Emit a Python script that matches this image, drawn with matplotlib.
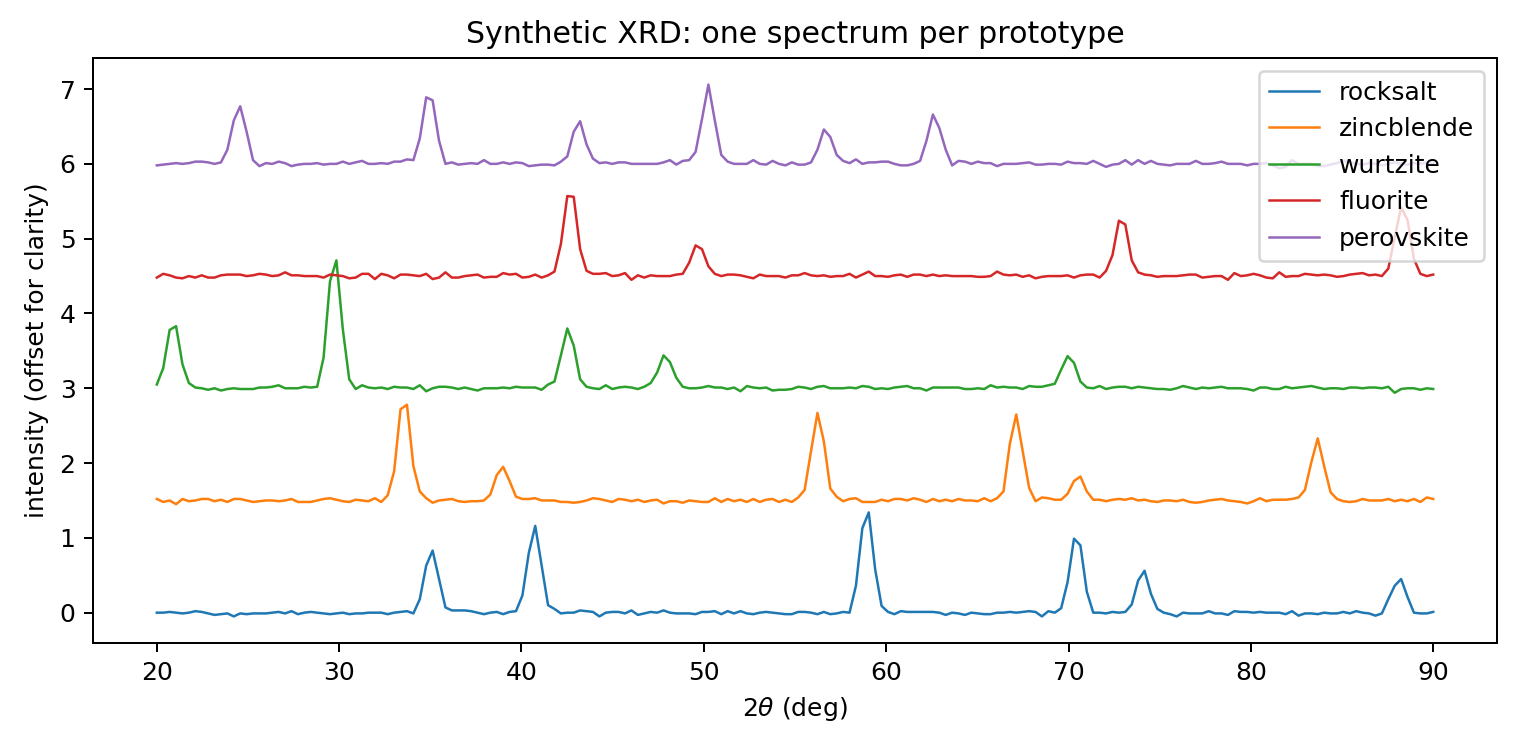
import numpy as np
import matplotlib
matplotlib.use("Agg")
import matplotlib.pyplot as plt

two_theta = np.linspace(20, 90, 200)

labels = ["rocksalt", "zincblende", "wurtzite", "fluorite", "perovskite"]

rocksalt = [
    0.00, 0.00, 0.01, 0.00, -0.01, 0.00, 0.02, 0.01, -0.01, -0.03,
    -0.02, -0.01, -0.05, -0.01, -0.02, -0.01, -0.01, -0.01, 0.00, 0.01,
    -0.01, 0.02, -0.02, 0.00, 0.01, 0.00, -0.01, -0.02, -0.01, 0.00,
    -0.02, -0.01, -0.01, 0.00, 0.00, 0.00, -0.02, 0.00, 0.01, 0.02,
    -0.01, 0.18, 0.63, 0.83, 0.45, 0.07, 0.03, 0.03, 0.03, 0.02,
    0.00, -0.02, 0.00, 0.01, -0.02, 0.01, 0.02, 0.23, 0.80, 1.16,
    0.63, 0.10, 0.05, -0.01, 0.00, 0.00, 0.03, 0.02, 0.01, -0.05,
    0.00, 0.01, 0.01, -0.01, 0.03, -0.03, -0.01, 0.01, 0.00, 0.03,
    0.00, -0.01, -0.01, -0.01, -0.02, 0.01, 0.01, 0.02, -0.02, 0.02,
    -0.01, 0.02, -0.01, -0.02, 0.00, 0.01, 0.00, -0.01, -0.02, -0.02,
    0.01, 0.01, 0.00, -0.02, 0.01, -0.02, -0.01, 0.01, 0.00, 0.36,
    1.13, 1.34, 0.58, 0.09, 0.01, -0.02, 0.02, 0.01, 0.01, 0.01,
    0.01, 0.01, 0.00, -0.03, 0.00, -0.01, -0.03, 0.00, -0.01, -0.02,
    -0.02, 0.00, 0.00, 0.01, 0.00, 0.01, 0.02, 0.01, -0.05, 0.02,
    0.00, 0.06, 0.41, 0.99, 0.90, 0.28, 0.00, 0.00, -0.01, 0.01,
    0.00, 0.01, 0.11, 0.43, 0.56, 0.25, 0.05, 0.00, -0.02, -0.05,
    0.00, -0.01, -0.01, -0.01, 0.02, -0.01, -0.01, -0.03, 0.02, 0.01,
    0.01, 0.00, 0.01, 0.00, 0.00, 0.00, -0.02, 0.02, -0.04, -0.01,
    -0.01, -0.02, 0.00, -0.01, -0.01, 0.01, -0.01, 0.02, 0.00, -0.01,
    -0.04, -0.01, 0.18, 0.36, 0.45, 0.21, 0.00, -0.01, -0.01, 0.01,
]

zincblende = [
    1.52, 1.48, 1.50, 1.45, 1.52, 1.49, 1.50, 1.52, 1.52, 1.49,
    1.51, 1.48, 1.52, 1.52, 1.50, 1.48, 1.49, 1.50, 1.50, 1.49,
    1.50, 1.52, 1.48, 1.48, 1.48, 1.50, 1.52, 1.53, 1.51, 1.49,
    1.48, 1.51, 1.50, 1.49, 1.53, 1.48, 1.57, 1.89, 2.72, 2.78,
    1.96, 1.62, 1.53, 1.47, 1.50, 1.51, 1.52, 1.49, 1.48, 1.49,
    1.49, 1.50, 1.58, 1.84, 1.95, 1.76, 1.55, 1.52, 1.52, 1.53,
    1.50, 1.50, 1.50, 1.48, 1.48, 1.47, 1.48, 1.50, 1.53, 1.52,
    1.50, 1.48, 1.52, 1.51, 1.49, 1.51, 1.48, 1.50, 1.51, 1.46,
    1.49, 1.49, 1.47, 1.50, 1.49, 1.48, 1.48, 1.53, 1.48, 1.52,
    1.49, 1.51, 1.48, 1.52, 1.48, 1.51, 1.52, 1.48, 1.51, 1.48,
    1.54, 1.64, 2.16, 2.67, 2.29, 1.66, 1.55, 1.49, 1.52, 1.53,
    1.48, 1.48, 1.48, 1.51, 1.49, 1.52, 1.52, 1.50, 1.53, 1.51,
    1.48, 1.52, 1.49, 1.51, 1.49, 1.52, 1.50, 1.50, 1.49, 1.53,
    1.49, 1.53, 1.62, 2.26, 2.65, 2.16, 1.67, 1.49, 1.54, 1.53,
    1.51, 1.51, 1.59, 1.76, 1.82, 1.62, 1.51, 1.51, 1.49, 1.51,
    1.52, 1.51, 1.53, 1.50, 1.51, 1.49, 1.48, 1.50, 1.50, 1.49,
    1.51, 1.48, 1.47, 1.48, 1.50, 1.51, 1.52, 1.50, 1.49, 1.48,
    1.46, 1.49, 1.53, 1.49, 1.51, 1.51, 1.51, 1.52, 1.54, 1.64,
    2.01, 2.33, 1.96, 1.61, 1.52, 1.49, 1.48, 1.49, 1.52, 1.50,
    1.50, 1.50, 1.52, 1.49, 1.51, 1.49, 1.52, 1.48, 1.54, 1.52,
]

wurtzite = [
    3.05, 3.27, 3.78, 3.83, 3.32, 3.07, 3.01, 3.00, 2.98, 3.00,
    2.97, 2.99, 3.00, 2.99, 2.99, 2.99, 3.01, 3.01, 3.02, 3.04,
    3.00, 3.00, 3.00, 3.02, 3.01, 3.02, 3.41, 4.43, 4.71, 3.79,
    3.12, 2.99, 3.04, 3.01, 3.00, 3.01, 2.99, 3.02, 3.01, 3.01,
    2.99, 3.04, 2.96, 3.00, 3.02, 3.02, 3.01, 2.99, 3.01, 2.99,
    2.97, 3.00, 3.00, 3.00, 3.01, 3.00, 3.02, 3.01, 3.01, 3.01,
    2.98, 3.05, 3.09, 3.44, 3.80, 3.57, 3.12, 3.02, 3.00, 2.99,
    3.04, 2.99, 3.01, 3.02, 3.01, 2.99, 3.02, 3.07, 3.21, 3.44,
    3.35, 3.14, 3.02, 3.00, 3.00, 3.01, 3.03, 3.01, 3.01, 2.99,
    3.01, 2.96, 3.03, 3.01, 3.00, 3.01, 2.97, 2.98, 2.98, 2.99,
    3.02, 3.01, 2.99, 3.02, 3.03, 3.00, 3.00, 3.00, 3.01, 3.00,
    3.03, 3.02, 2.99, 3.00, 2.99, 3.01, 3.02, 3.03, 3.00, 3.00,
    2.97, 3.01, 3.01, 3.01, 3.01, 3.01, 2.99, 2.99, 3.00, 2.99,
    3.04, 3.01, 3.02, 3.01, 3.01, 2.99, 3.03, 3.02, 3.02, 3.04,
    3.06, 3.25, 3.43, 3.34, 3.09, 3.01, 3.00, 3.03, 2.99, 3.01,
    3.02, 3.02, 3.00, 3.02, 3.01, 3.00, 2.99, 2.99, 2.98, 3.00,
    3.03, 3.01, 2.99, 3.01, 3.00, 3.01, 3.02, 3.00, 3.00, 3.00,
    2.99, 2.97, 3.01, 3.01, 2.99, 2.99, 3.02, 3.00, 3.01, 3.02,
    3.03, 3.01, 2.99, 3.00, 3.00, 2.99, 3.01, 3.01, 3.00, 3.01,
    3.01, 3.00, 3.02, 2.94, 2.99, 3.00, 3.00, 2.98, 3.00, 2.99,
]

fluorite = [
    4.48, 4.53, 4.51, 4.48, 4.47, 4.50, 4.48, 4.51, 4.48, 4.48,
    4.51, 4.52, 4.52, 4.52, 4.50, 4.51, 4.53, 4.52, 4.50, 4.51,
    4.55, 4.51, 4.51, 4.50, 4.50, 4.50, 4.48, 4.52, 4.51, 4.50,
    4.47, 4.48, 4.53, 4.53, 4.46, 4.53, 4.51, 4.47, 4.52, 4.52,
    4.51, 4.50, 4.53, 4.46, 4.48, 4.55, 4.48, 4.48, 4.50, 4.51,
    4.52, 4.48, 4.49, 4.49, 4.54, 4.52, 4.53, 4.48, 4.49, 4.52,
    4.48, 4.51, 4.56, 4.93, 5.57, 5.56, 4.86, 4.57, 4.53, 4.53,
    4.54, 4.50, 4.51, 4.54, 4.45, 4.51, 4.48, 4.51, 4.50, 4.50,
    4.50, 4.52, 4.53, 4.68, 4.91, 4.86, 4.63, 4.53, 4.50, 4.52,
    4.52, 4.51, 4.49, 4.47, 4.52, 4.50, 4.50, 4.50, 4.48, 4.51,
    4.51, 4.54, 4.51, 4.50, 4.51, 4.49, 4.50, 4.50, 4.53, 4.48,
    4.52, 4.56, 4.50, 4.50, 4.49, 4.51, 4.52, 4.49, 4.52, 4.52,
    4.50, 4.52, 4.50, 4.51, 4.50, 4.50, 4.50, 4.50, 4.49, 4.49,
    4.50, 4.56, 4.52, 4.51, 4.52, 4.49, 4.51, 4.47, 4.49, 4.50,
    4.50, 4.50, 4.51, 4.48, 4.51, 4.52, 4.52, 4.48, 4.57, 4.78,
    5.24, 5.19, 4.71, 4.55, 4.52, 4.51, 4.49, 4.50, 4.50, 4.50,
    4.51, 4.52, 4.52, 4.48, 4.49, 4.50, 4.50, 4.45, 4.54, 4.50,
    4.51, 4.53, 4.51, 4.48, 4.47, 4.55, 4.49, 4.50, 4.50, 4.53,
    4.52, 4.51, 4.52, 4.51, 4.49, 4.50, 4.52, 4.53, 4.54, 4.51,
    4.52, 4.50, 4.60, 5.02, 5.42, 5.25, 4.73, 4.53, 4.50, 4.52,
]

perovskite = [
    5.98, 5.99, 6.00, 6.01, 6.00, 6.01, 6.03, 6.03, 6.02, 6.00,
    6.02, 6.19, 6.58, 6.77, 6.43, 6.05, 5.97, 6.01, 6.00, 6.03,
    6.01, 5.97, 5.99, 6.00, 6.00, 6.01, 5.99, 6.00, 6.00, 6.03,
    6.00, 6.02, 6.04, 6.00, 6.00, 6.01, 6.00, 6.03, 6.03, 6.06,
    6.05, 6.34, 6.89, 6.85, 6.31, 6.00, 6.02, 5.99, 6.00, 6.01,
    6.00, 6.05, 6.00, 6.00, 6.02, 6.00, 6.02, 6.01, 5.97, 5.98,
    5.99, 5.99, 5.98, 6.03, 6.10, 6.43, 6.57, 6.26, 6.07, 6.01,
    6.02, 6.00, 6.02, 6.02, 6.00, 6.00, 6.00, 6.00, 6.00, 6.02,
    6.05, 5.99, 6.04, 6.05, 6.16, 6.60, 7.06, 6.58, 6.12, 6.03,
    6.00, 6.00, 6.00, 6.05, 6.00, 5.99, 6.04, 6.00, 5.98, 6.02,
    5.99, 5.99, 6.02, 6.19, 6.46, 6.36, 6.12, 6.04, 6.01, 6.06,
    6.00, 6.02, 6.02, 6.03, 6.03, 6.00, 5.98, 5.98, 6.00, 6.04,
    6.31, 6.66, 6.48, 6.19, 5.98, 6.04, 6.03, 6.00, 6.03, 6.01,
    6.01, 5.97, 6.00, 6.00, 6.00, 6.01, 6.02, 5.99, 5.99, 6.00,
    6.00, 5.99, 6.03, 6.01, 6.01, 6.00, 6.04, 6.00, 5.96, 5.99,
    6.00, 6.05, 5.99, 6.05, 6.00, 6.04, 6.00, 5.99, 5.98, 6.00,
    6.00, 6.00, 6.04, 6.00, 6.00, 6.01, 6.03, 6.00, 6.00, 6.00,
    5.98, 6.00, 6.00, 6.01, 5.98, 5.94, 5.96, 6.05, 6.00, 6.00,
    6.00, 5.97, 5.97, 5.99, 6.01, 6.04, 6.02, 6.00, 5.99, 6.01,
    6.00, 5.98, 6.00, 6.02, 6.00, 5.99, 6.01, 6.00, 6.02, 6.01,
]

series = [rocksalt, zincblende, wurtzite, fluorite, perovskite]

W, H, DPI = 1516, 747, 180
fig = plt.figure(figsize=(W / DPI, H / DPI), dpi=DPI)
ax = fig.add_axes([93 / W, 1 - 643 / H, (1497 - 93) / W, (643 - 58) / H])

for lab, vals in zip(labels, series):
    ax.plot(two_theta, vals, label=lab, linewidth=1.0)

ax.set_xlabel(r"2$\theta$ (deg)")
ax.set_ylabel("intensity (offset for clarity)")
ax.set_title("Synthetic XRD: one spectrum per prototype")
ax.legend(loc="upper right")

fig.savefig("out.png", dpi=DPI)
